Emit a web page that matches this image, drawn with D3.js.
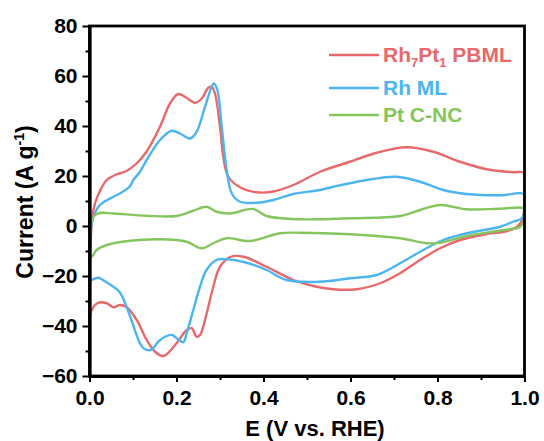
<!DOCTYPE html>
<html>
<head>
<meta charset="utf-8">
<script src="https://cdn.jsdelivr.net/npm/d3@7"></script>
<style>
  html, body { margin: 0; padding: 0; background: #fff; }
  svg { display: block; }
  text { font-family: "Liberation Sans", Arial, sans-serif; font-weight: bold; }
</style>
</head>
<body>
<svg id="chart" width="544" height="441"></svg>
<script>
// Cyclic voltammograms: [E (V vs. RHE), current (A g^-1)] for each scan direction.
const rh7pt1Anodic = [
  [0.000,-37],[0.001,-20],[0.003,-5],[0.006,3],[0.0126,9],[0.024,14],[0.040,18.5],
  [0.062,20.6],[0.085,22],[0.108,25],[0.131,29.7],[0.162,39.7],[0.185,49],[0.204,52.8],
  [0.223,51.3],[0.2425,49.3],[0.258,51],[0.273,55.3],[0.281,55.7],[0.2885,53],[0.300,39.7],
  [0.3076,27.7],[0.319,19.7],[0.346,15.5],[0.384,13.5],[0.423,13.8],[0.4685,16.4],
  [0.530,21.7],[0.599,25.7],[0.660,29.3],[0.729,31.5],[0.790,29.7],[0.852,25.7],
  [0.913,22.7],[0.974,21.5],[0.998,21.3],[1.000,15]
];
const rh7pt1Cathodic = [
  [1.000,8],[0.996,3],[0.985,0],[0.960,-2],[0.913,-3.2],[0.852,-5.6],[0.806,-8.9],
  [0.760,-13.6],[0.714,-18.9],[0.668,-22.9],[0.614,-25.3],[0.5605,-25.3],[0.514,-24],
  [0.4685,-21.6],[0.407,-16.3],[0.354,-12.3],[0.325,-12.3],[0.300,-16.3],[0.2846,-24.3],
  [0.2655,-37.6],[0.254,-43.6],[0.2464,-44.3],[0.235,-40.9],[0.2234,-41.6],[0.200,-46.9],
  [0.170,-52],[0.1506,-50.3],[0.1315,-45.6],[0.1085,-37.6],[0.0855,-32.5],[0.070,-31.6],
  [0.0548,-32.5],[0.0395,-30.9],[0.0203,-30.7],[0.005,-33.6],[0.001,-37]
];

const rhMlAnodic = [
  [0.000,-22],[0.001,-10],[0.003,-2],[0.009,3.7],[0.024,8.4],[0.055,11.7],[0.070,13],
  [0.093,15.9],[0.1007,18.4],[0.116,21.7],[0.1315,26.4],[0.162,34.4],[0.189,38.1],
  [0.208,37],[0.231,35],[0.2464,37.7],[0.2655,47.7],[0.281,55.7],[0.286,57],[0.294,54.4],
  [0.304,39.7],[0.3154,22.4],[0.327,13],[0.346,9.7],[0.384,9.3],[0.4226,10.4],
  [0.4685,12.8],[0.530,14.4],[0.5605,15.7],[0.637,18.4],[0.706,19.7],[0.760,17.7],
  [0.813,14.4],[0.867,12.8],[0.944,12.3],[0.998,12.8],[1.000,10]
];
const rhMlCathodic = [
  [1.000,6],[0.993,3],[0.974,1.7],[0.944,-0.3],[0.867,-2.9],[0.813,-5.6],[0.767,-9.6],
  [0.714,-14.9],[0.660,-19.6],[0.599,-20.9],[0.530,-22.3],[0.453,-21.6],[0.407,-17.6],
  [0.361,-14.7],[0.315,-13.3],[0.292,-13.6],[0.269,-17.6],[0.254,-24.3],[0.2386,-33.6],
  [0.2234,-42.9],[0.2157,-46.5],[0.205,-45.5],[0.190,-43.6],[0.175,-44.2],[0.160,-46],
  [0.140,-49.6],[0.125,-49],[0.116,-46.9],[0.093,-36],[0.070,-26.6],[0.055,-24.3],
  [0.0395,-22.6],[0.020,-20.7],[0.005,-21.6],[0.001,-22]
];

const ptCncAnodic = [
  [0.000,-12],[0.001,-5],[0.004,1.5],[0.010,4],[0.024,5.2],[0.055,5],[0.1315,4.1],
  [0.200,4],[0.2386,6.1],[0.269,7.7],[0.292,5.7],[0.323,5],[0.3766,6.8],[0.407,4],
  [0.4685,2.8],[0.530,2.7],[0.599,3.1],[0.714,4],[0.760,6.4],[0.806,8.4],[0.867,6.7],
  [0.944,6.9],[0.998,7.1],[1.000,5.5]
];
const ptCncCathodic = [
  [1.000,3],[0.990,-0.3],[0.951,-1.6],[0.867,-4],[0.806,-6.7],[0.775,-6.9],[0.714,-4.9],
  [0.599,-3.3],[0.484,-2.7],[0.438,-2.9],[0.369,-6],[0.315,-4.9],[0.2846,-6.9],
  [0.258,-8.9],[0.2234,-6.3],[0.162,-5.3],[0.093,-5.9],[0.0395,-7.6],[0.0165,-9.6],
  [0.005,-12.3],[0.001,-12.5]
];

const seriesNames = ["Rh7Pt1 PBML", "Rh ML", "Pt C-NC"];
const seriesColors = ["#E8696B", "#4CB5F0", "#84C65D"];
const seriesScans = [
  [rh7pt1Anodic, rh7pt1Cathodic],
  [rhMlAnodic, rhMlCathodic],
  [ptCncAnodic, ptCncCathodic]
];

const xMajorTicks = [0.0, 0.2, 0.4, 0.6, 0.8, 1.0];
const xMinorTicks = [0.1, 0.3, 0.5, 0.7, 0.9];
const yMajorTicks = [-60, -40, -20, 0, 20, 40, 60, 80];
const yMinorTicks = [-50, -30, -10, 10, 30, 50, 70];

const svg = d3.select("#chart");
const plotLeft = 89.5, plotRight = 524.5, plotTop = 26, plotBottom = 376;

const x = d3.scaleLinear().domain([0, 1]).range([plotLeft, plotRight]);
const y = d3.scaleLinear().domain([-60, 80]).range([plotBottom, plotTop]);

// Curves, clipped to the plotting area
svg.append("clipPath").attr("id", "plotClip")
  .append("rect").attr("x", plotLeft).attr("y", plotTop)
  .attr("width", plotRight - plotLeft).attr("height", plotBottom - plotTop);

const line = d3.line()
  .x(d => x(d[0])).y(d => y(d[1]))
  .curve(d3.curveCatmullRom.alpha(0.5));

const curves = svg.append("g").attr("clip-path", "url(#plotClip)");
seriesScans.forEach((scans, i) => {
  curves.append("path")
    .datum(scans[0].concat(scans[1]))
    .attr("d", line)
    .attr("fill", "none")
    .attr("stroke", seriesColors[i])
    .attr("stroke-width", 2.4)
    .attr("stroke-linejoin", "round");
});

// Frame
svg.append("rect")
  .attr("x", plotLeft).attr("y", plotTop)
  .attr("width", plotRight - plotLeft).attr("height", plotBottom - plotTop)
  .attr("fill", "none").attr("stroke", "#000").attr("stroke-width", 2.8);

// Axes
function styleAxis(g) {
  g.select(".domain").attr("stroke", "#000").attr("stroke-width", 2.8);
  g.selectAll(".tick line").attr("stroke", "#000").attr("stroke-width", 2);
  g.selectAll(".tick text")
    .attr("fill", "#000")
    .style("font-family", '"Liberation Sans", Arial, sans-serif')
    .style("font-weight", "bold")
    .style("font-size", "21px");
}

svg.append("g").attr("transform", `translate(0,${plotBottom})`)
  .call(d3.axisBottom(x).tickValues(xMinorTicks).tickSize(4).tickSizeOuter(0).tickFormat(""))
  .call(styleAxis);
svg.append("g").attr("transform", `translate(0,${plotBottom})`)
  .call(d3.axisBottom(x).tickValues(xMajorTicks).tickSize(6).tickSizeOuter(0)
    .tickPadding(8).tickFormat(d3.format(".1f")))
  .call(styleAxis);

svg.append("g").attr("transform", `translate(${plotLeft},0)`)
  .call(d3.axisLeft(y).tickValues(yMinorTicks).tickSize(4).tickSizeOuter(0).tickFormat(""))
  .call(styleAxis);
svg.append("g").attr("transform", `translate(${plotLeft},0)`)
  .call(d3.axisLeft(y).tickValues(yMajorTicks).tickSize(7).tickSizeOuter(0)
    .tickPadding(5).tickFormat(d3.format("d")))
  .call(styleAxis);

// Axis titles
svg.append("text")
  .attr("x", 315).attr("y", 436)
  .attr("text-anchor", "middle")
  .style("font-size", "22px")
  .text("E (V vs. RHE)");

const yTitle = svg.append("text")
  .attr("transform", "translate(33,202) rotate(-90)")
  .attr("text-anchor", "middle")
  .style("font-size", "23px");
yTitle.append("tspan").text("Current (A g");
yTitle.append("tspan").attr("dy", -9).style("font-size", "14px").text("-1");
yTitle.append("tspan").attr("dy", 9).text(")");

// Legend
const legendRows = [55, 88, 115];
const legendBaselines = [62, 95, 122];
const legend = svg.append("g");
seriesNames.forEach((name, i) => {
  legend.append("line")
    .attr("x1", 329).attr("x2", 379)
    .attr("y1", legendRows[i]).attr("y2", legendRows[i])
    .attr("stroke", seriesColors[i]).attr("stroke-width", 2.4);
  const t = legend.append("text")
    .attr("x", 383).attr("y", legendBaselines[i])
    .attr("fill", seriesColors[i])
    .style("font-size", "21px");
  if (i === 0) {
    t.append("tspan").text("Rh");
    t.append("tspan").attr("dy", 5).style("font-size", "13px").text("7");
    t.append("tspan").attr("dy", -5).text("Pt");
    t.append("tspan").attr("dy", 5).style("font-size", "13px").text("1");
    t.append("tspan").attr("dy", -5).text(" PBML");
  } else {
    t.text(name);
  }
});
</script>
</body>
</html>
